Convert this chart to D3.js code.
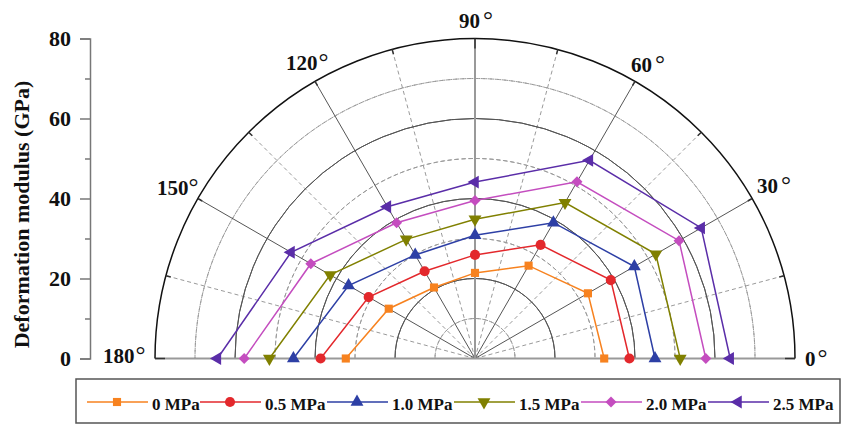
<!DOCTYPE html>
<html>
<head>
<meta charset="utf-8">
<script src="https://cdn.jsdelivr.net/npm/d3@7"></script>
<style>
  html, body { margin: 0; padding: 0; background: #fff; }
  svg { display: block; }
  text { font-family: "Liberation Serif", "Times New Roman", serif; font-weight: bold; fill: #111; }
</style>
</head>
<body>
<svg id="chart" width="843" height="425"></svg>
<script>
// ---- data ----
const angles = [0, 30, 60, 90, 120, 150, 180];
const seriesNames = ["0 MPa", "0.5 MPa", "1.0 MPa", "1.5 MPa", "2.0 MPa", "2.5 MPa"];
const s0  = [32.3, 32.6, 26.8, 21.4, 20.5, 24.9, 32.3];
const s05 = [38.6, 39.2, 32.8, 25.9, 25.2, 30.7, 38.6];
const s10 = [45.0, 46.0, 39.2, 30.8, 29.9, 36.5, 45.4];
const s15 = [51.3, 52.2, 45.0, 34.8, 34.4, 41.8, 51.4];
const s20 = [57.7, 58.9, 51.0, 39.5, 39.2, 47.4, 57.7];
const s25 = [63.8, 65.3, 57.2, 44.1, 43.8, 53.1, 64.4];
const seriesValues = [s0, s05, s10, s15, s20, s25];
const seriesColors = ["#f7821f", "#e3282c", "#2d3fa5", "#808000", "#c44dbf", "#5a2da8"];
const yTicks = [0, 20, 40, 60, 80];
const angleLabels = ["0", "30", "60", "90", "120", "150", "180"];

// ---- layout ----
const svg = d3.select("#chart");
const cx = 475, cy = 358.5, R = 320;
const r = d3.scaleLinear().domain([0, 80]).range([0, R]);
const yScale = d3.scaleLinear().domain([0, 80]).range([cy, cy - R]);
const rad = d => d * Math.PI / 180;
const px = (a, v) => cx + r(v) * Math.cos(rad(a));
const py = (a, v) => cy - r(v) * Math.sin(rad(a));

const grid = svg.append("g");
const arcGen = d3.arc().startAngle(-Math.PI / 2).endAngle(Math.PI / 2);

// dashed arcs
[10, 30, 50, 70].forEach(v => {
  grid.append("path")
    .attr("d", arcGen.innerRadius(r(v)).outerRadius(r(v))())
    .attr("transform", `translate(${cx},${cy})`)
    .attr("fill", "none").attr("stroke", "#9a9a9a").attr("stroke-width", 1)
    .attr("stroke-dasharray", "4,3");
});
// dashed radials
[15, 45, 75, 105, 135, 165].forEach(a => {
  grid.append("line")
    .attr("x1", cx).attr("y1", cy).attr("x2", px(a, 80)).attr("y2", py(a, 80))
    .attr("stroke", "#9a9a9a").attr("stroke-width", 1).attr("stroke-dasharray", "4,3");
});
// solid arcs
[20, 40, 60].forEach(v => {
  grid.append("path")
    .attr("d", arcGen.innerRadius(r(v)).outerRadius(r(v))())
    .attr("transform", `translate(${cx},${cy})`)
    .attr("fill", "none").attr("stroke", "#555").attr("stroke-width", 1);
});
// solid radials
[30, 60, 120, 150].forEach(a => {
  grid.append("line")
    .attr("x1", cx).attr("y1", cy).attr("x2", px(a, 80)).attr("y2", py(a, 80))
    .attr("stroke", "#555").attr("stroke-width", 1);
});
// main axes 0/180 and 90
grid.append("line").attr("x1", px(180, 80)).attr("y1", cy).attr("x2", px(0, 80)).attr("y2", cy)
  .attr("stroke", "#999").attr("stroke-width", 2);
grid.append("line").attr("x1", cx).attr("y1", cy).attr("x2", cx).attr("y2", py(90, 80))
  .attr("stroke", "#999").attr("stroke-width", 2);
// outer arc
grid.append("path")
  .attr("d", arcGen.innerRadius(R).outerRadius(R)())
  .attr("transform", `translate(${cx},${cy})`)
  .attr("fill", "none").attr("stroke", "#111").attr("stroke-width", 1.5);
// outer ticks every 15 degrees (inward)
d3.range(0, 181, 15).forEach(a => {
  const len = (a % 90 === 0) ? 10 : 5;
  grid.append("line")
    .attr("x1", px(a, 80)).attr("y1", py(a, 80))
    .attr("x2", cx + (R - len) * Math.cos(rad(a))).attr("y2", cy - (R - len) * Math.sin(rad(a)))
    .attr("stroke", "#333").attr("stroke-width", 1.5);
});

// angle labels
const angPos = [[805, 366], [757, 193], [631, 72], [459, 28], [286, 70], [157, 195], [103, 363]];
const degGap = [2, 3, 3, 3, 1, 0, 1];
angleLabels.forEach((t, i) => {
  const tx = svg.append("text").attr("x", angPos[i][0]).attr("y", angPos[i][1])
    .attr("font-size", 21);
  tx.append("tspan").text(t);
  tx.append("tspan").attr("dx", degGap[i]).attr("font-size", 25).attr("font-weight", "normal").text("°");
});

// y axis
const yAxis = svg.append("g").attr("transform", "translate(90,0)")
  .call(d3.axisLeft(yScale).tickValues(yTicks).tickSize(10).tickPadding(9).tickFormat(d3.format("d")));
yAxis.select(".domain").attr("stroke", "#777").attr("stroke-width", 1.5);
yAxis.selectAll(".tick line").attr("stroke", "#777").attr("stroke-width", 1.5);
yAxis.selectAll(".tick text").attr("font-size", 22).attr("fill", "#111")
  .style("font-family", '"Liberation Serif", serif').style("font-weight", "bold");
const yMinor = svg.append("g").attr("transform", "translate(90,0)")
  .call(d3.axisLeft(yScale).tickValues([10, 30, 50, 70]).tickSize(5).tickFormat(""));
yMinor.select(".domain").remove();
yMinor.selectAll(".tick line").attr("stroke", "#777").attr("stroke-width", 1.5);

svg.append("text").attr("transform", "translate(29,214.5) rotate(-90)")
  .attr("text-anchor", "middle").attr("font-size", 22).text("Deformation modulus (GPa)");

// symbols
function symbolPath(i, size) {
  const types = [d3.symbolSquare, d3.symbolCircle, d3.symbolTriangle, d3.symbolTriangle, d3.symbolSquare, d3.symbolTriangle];
  return d3.symbol().type(types[i]).size(size)();
}
const symRot = [0, 0, 0, 180, 45, -90];
const symSize = [66, 80, 72, 72, 60, 72];

// series
const lineGen = d3.line().x(d => px(d[0], d[1])).y(d => py(d[0], d[1]));
seriesValues.forEach((vals, i) => {
  const pts = angles.map((a, j) => [a, vals[j]]);
  const g = svg.append("g");
  g.append("path").attr("d", lineGen(pts)).attr("fill", "none")
    .attr("stroke", seriesColors[i]).attr("stroke-width", 1.5);
  g.selectAll("path.m").data(pts).enter().append("path").attr("class", "m")
    .attr("d", symbolPath(i, symSize[i]))
    .attr("transform", d => `translate(${px(d[0], d[1])},${py(d[0], d[1])}) rotate(${symRot[i]})`)
    .attr("fill", seriesColors[i]);
});

// legend
svg.append("rect").attr("x", 76).attr("y", 379).attr("width", 764).attr("height", 44)
  .attr("fill", "none").attr("stroke", "#555").attr("stroke-width", 1.5);
const legX = [87, 200, 327, 454, 581, 708];
const ly = 402;
seriesNames.forEach((n, i) => {
  const g = svg.append("g");
  g.append("line").attr("x1", legX[i]).attr("x2", legX[i] + 61).attr("y1", ly).attr("y2", ly)
    .attr("stroke", seriesColors[i]).attr("stroke-width", 1.5);
  g.append("path").attr("d", symbolPath(i, symSize[i]))
    .attr("transform", `translate(${legX[i] + 30},${ly}) rotate(${symRot[i]})`)
    .attr("fill", seriesColors[i]);
  g.append("text").attr("x", legX[i] + 65).attr("y", 410).attr("font-size", 17).text(n);
});
</script>
</body>
</html>
